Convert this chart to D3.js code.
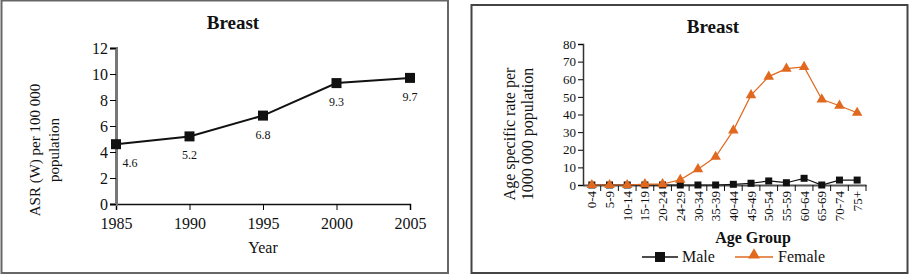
<!DOCTYPE html>
<html><head><meta charset="utf-8">
<script src="https://cdn.jsdelivr.net/npm/d3@7"></script>
<style>body{margin:0;background:#fff}svg{display:block}text{font-family:"Liberation Serif","Times New Roman",serif;fill:#111}</style>
</head><body><svg id="c" width="909" height="280"></svg>
<script>
// Left chart data
const years = [1985, 1990, 1995, 2000, 2005];
const asr = [4.6, 5.2, 6.8, 9.3, 9.7];
const asrTicks = [0, 2, 4, 6, 8, 10, 12];
// Right chart data
const ageGroups = ["0-4","5-9","10-14","15-19","20-24","24-29","30-34","35-39","40-44","45-49","50-54","55-59","60-64","65-69","70-74","75+"];
const maleRates = [0, 0, 0, 0, 0, 0, 0, 0, 0.4, 1, 2.3, 1.3, 3.8, 0, 2.8, 2.8];
const femaleRates = [0, 0, 0, 0.5, 0.5, 3, 9, 16, 31, 51, 61.5, 66, 67, 48.6, 45, 41];
const rateTicks = [0, 10, 20, 30, 40, 50, 60, 70, 80];
const orange = "#e0691f";

const svg = d3.select("#c");
// frames
svg.append("rect").attr("x",1.5).attr("y",0.5).attr("width",446.5).attr("height",272.5)
  .attr("fill","none").attr("stroke","#666").attr("stroke-width",2);
svg.append("rect").attr("x",471.5).attr("y",5).attr("width",436).attr("height",268)
  .attr("fill","none").attr("stroke","#444").attr("stroke-width",2);

// ---------- Left chart ----------
const L = svg.append("g");
const xL = d3.scaleLinear().domain([1985,2005]).range([116,410]);
const yL = d3.scaleLinear().domain([0,12]).range([204,48]);
L.append("text").attr("x",233).attr("y",29).attr("text-anchor","middle")
  .style("font-weight","bold").style("font-size","19px").text("Breast");
const axL = L.append("g").attr("transform","translate(0,204)")
  .call(d3.axisBottom(xL).tickValues(years).tickFormat(d3.format("d")).tickSize(6).tickPadding(8));
axL.select(".domain").attr("stroke","#111").attr("stroke-width",1.5);
axL.selectAll("text").style("font-size","16px").attr("fill","#111");
const ayL = L.append("g").attr("transform","translate(116,0)")
  .call(d3.axisLeft(yL).tickValues(asrTicks).tickSize(6).tickPadding(2));
ayL.select(".domain").attr("stroke","#777").attr("stroke-width",3);
ayL.selectAll("text").style("font-size","16px").attr("fill","#111");
L.append("text").attr("transform","translate(40,150) rotate(-90)").attr("text-anchor","middle")
  .style("font-size","15px").text("ASR (W) per 100 000");
L.append("text").attr("transform","translate(59,150) rotate(-90)").attr("text-anchor","middle")
  .style("font-size","15px").text("population");
L.append("text").attr("x",263).attr("y",253).attr("text-anchor","middle").style("font-size","16px").text("Year");
const ptsL = years.map((y,i)=>[y,asr[i]]);
L.append("path").datum(ptsL).attr("fill","none").attr("stroke","#111").attr("stroke-width",2)
  .attr("d", d3.line().x(d=>xL(d[0])).y(d=>yL(d[1])));
L.selectAll(".sq").data(ptsL).join("rect").attr("x",d=>xL(d[0])-5).attr("y",d=>yL(d[1])-5)
  .attr("width",10).attr("height",10).attr("fill","#111");
L.selectAll(".lbl").data(ptsL).join("text")
  .attr("x",(d,i)=>xL(d[0])+(i===0?14:0)).attr("y",d=>yL(d[1])+23)
  .attr("text-anchor","middle").style("font-size","12px").attr("fill","#222").text(d=>d[1]);

// ---------- Right chart ----------
const R = svg.append("g");
const xR = d3.scaleBand().domain(ageGroups).range([583,866]);
const yR = d3.scaleLinear().domain([0,80]).range([185,44]);
R.append("text").attr("x",713).attr("y",33).attr("text-anchor","middle")
  .style("font-weight","bold").style("font-size","19px").text("Breast");
const axR = R.append("g").attr("transform","translate(0,185)")
  .call(d3.axisBottom(xR).tickSize(0).tickPadding(4));
axR.select(".domain").attr("stroke","#555").attr("stroke-width",2);
axR.selectAll("text").style("font-size","13px").attr("fill","#111")
  .attr("transform","rotate(-90)").attr("text-anchor","end").attr("dy","0.35em").attr("x",-6).attr("y",0);
// separators between bands
R.selectAll(".sep").data(d3.range(1, ageGroups.length+1)).join("line")
  .attr("x1",i=>583+i*xR.step()).attr("x2",i=>583+i*xR.step()).attr("y1",185).attr("y2",191)
  .attr("stroke","#111").attr("stroke-width",1);
const ayR = R.append("g").attr("transform","translate(583,0)")
  .call(d3.axisLeft(yR).tickValues(rateTicks).tickSize(5).tickPadding(2));
ayR.select(".domain").attr("stroke","#333").attr("stroke-width",1.5);
ayR.selectAll("text").style("font-size","13px").attr("fill","#222");
R.append("text").attr("transform","translate(515,134) rotate(-90)").attr("text-anchor","middle")
  .style("font-size","16px").text("Age specific rate per");
R.append("text").attr("transform","translate(533,134) rotate(-90)").attr("text-anchor","middle")
  .style("font-size","16px").text("1000 000 population");
R.append("text").attr("x",753).attr("y",243).attr("text-anchor","middle")
  .style("font-weight","bold").style("font-size","16px").text("Age Group");
const cx = d => xR(d) + xR.bandwidth()/2;
const male = ageGroups.map((g,i)=>[g,maleRates[i]]);
const female = ageGroups.map((g,i)=>[g,femaleRates[i]]);
const line = d3.line().x(d=>cx(d[0])).y(d=>yR(d[1]));
R.append("path").datum(male).attr("fill","none").attr("stroke","#111").attr("stroke-width",1.2).attr("d",line);
R.selectAll(".msq").data(male).join("rect").attr("x",d=>cx(d[0])-3.5).attr("y",d=>yR(d[1])-3.5)
  .attr("width",7).attr("height",7).attr("fill","#111");
R.append("path").datum(female).attr("fill","none").attr("stroke",orange).attr("stroke-width",1.2).attr("d",line);
const tri = d3.symbol().type(d3.symbolTriangle).size(48);
R.selectAll(".ftri").data(female).join("path").attr("d",tri)
  .attr("transform",d=>`translate(${cx(d[0])},${yR(d[1])})`).attr("fill",orange);
// legend
R.append("line").attr("x1",642).attr("x2",678).attr("y1",257).attr("y2",257).attr("stroke","#111").attr("stroke-width",1.5);
R.append("rect").attr("x",655).attr("y",252).attr("width",10).attr("height",10).attr("fill","#111");
R.append("text").attr("x",682).attr("y",262).style("font-size","16px").text("Male");
R.append("line").attr("x1",735).attr("x2",773).attr("y1",257).attr("y2",257).attr("stroke",orange).attr("stroke-width",1.5);
R.append("path").attr("d",d3.symbol().type(d3.symbolTriangle).size(60)).attr("transform","translate(754,255)").attr("fill",orange);
R.append("text").attr("x",778).attr("y",262).style("font-size","16px").text("Female");
</script></body></html>
